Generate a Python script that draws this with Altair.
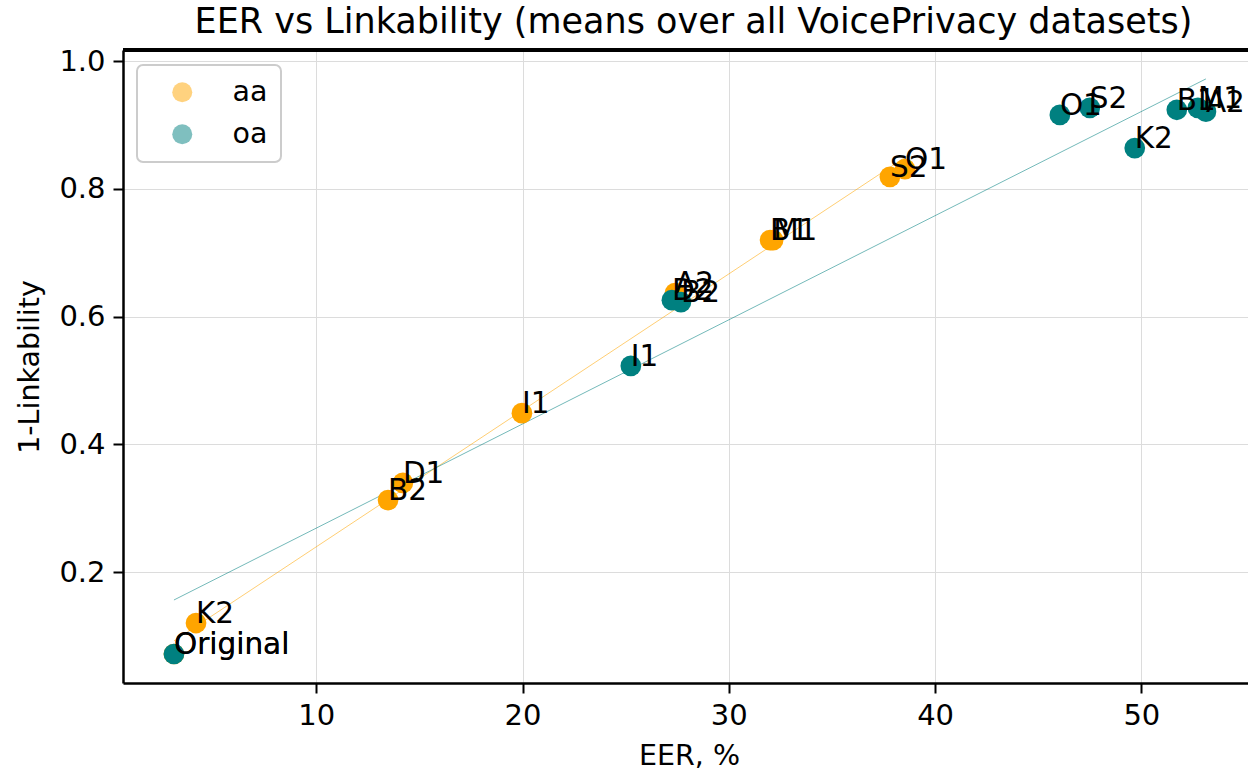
import altair as alt
import pandas as pd

# --- data -------------------------------------------------------------------
aa_labels = ["Original", "K2", "B2", "D1", "I1", "A2", "B1", "M1", "S2", "O1"]
aa_eer = [3.10, 4.17, 13.48, 14.20, 19.97, 27.39, 32.00, 32.15, 37.81, 38.54]
aa_link = [0.072, 0.1205, 0.313, 0.340, 0.449, 0.637, 0.720, 0.720, 0.819, 0.831]

oa_labels = ["Original", "I1", "D2", "B2", "O1", "S2", "K2", "B1", "M1", "A2"]
oa_eer = [3.10, 25.25, 27.24, 27.68, 46.05, 47.50, 49.68, 51.72, 52.74, 53.13]
oa_link = [0.072, 0.523, 0.626, 0.623, 0.916, 0.927, 0.864, 0.924, 0.927, 0.921]

series_names = ["aa", "oa"]
series_colors = ["#FFA500", "#008080"]
x_ticks = [10, 20, 30, 40, 50]
y_ticks = [0.2, 0.4, 0.6, 0.8, 1.0]

rows = []
for lab, x, y in zip(aa_labels, aa_eer, aa_link):
    rows.append({"label": lab, "eer": x, "link": y, "attack": "aa"})
for lab, x, y in zip(oa_labels, oa_eer, oa_link):
    rows.append({"label": lab, "eer": x, "link": y, "attack": "oa"})
df = pd.DataFrame(rows)

W, H = 1125, 633
FONT = "DejaVu Sans"

xscale = alt.Scale(domain=[0.63, 55.17], nice=False, zero=False)
yscale = alt.Scale(domain=[0.0266, 1.0176], nice=False, zero=False)

x_enc = alt.X(
    "eer:Q", scale=xscale,
    axis=alt.Axis(values=x_ticks, format="d", title="EER, %",
                  titleX=566, titleY=81, titleBaseline="alphabetic"),
)
y_enc = alt.Y(
    "link:Q", scale=yscale,
    axis=alt.Axis(values=y_ticks, format=".1f", title="1-Linkability",
                  titleX=-85, titleBaseline="alphabetic"),
)

base = alt.Chart(df)

lines = []
for name, col in zip(series_names, series_colors):
    lines.append(
        base.transform_filter(alt.datum.attack == name)
        .transform_regression("eer", "link")
        .mark_line(strokeWidth=1, opacity=0.55, clip=True)
        .encode(x=x_enc, y=y_enc, color=alt.value(col))
    )

points = base.mark_circle(size=430, opacity=1).encode(
    x=x_enc, y=y_enc,
    color=alt.Color(
        "attack:N",
        scale=alt.Scale(domain=series_names, range=series_colors),
        legend=alt.Legend(
            title=None, orient="none", legendX=14, legendY=15,
            padding=13, symbolOffset=18, labelOffset=36,
            rowPadding=13, symbolSize=400, symbolOpacity=0.5,
            symbolType="circle", labelFontSize=28.5, labelFont=FONT,
            labelColor="black",
            strokeColor="#cccccc", cornerRadius=6,
            fillColor="white",
        ),
    ),
    order=alt.Order("attack:N"),
)

labels = base.mark_text(
    align="left", baseline="alphabetic", fontSize=29.5, font=FONT,
    color="black",
).encode(x=x_enc, y=y_enc, text="label:N")

top_spine = alt.Chart(df).mark_rule(color="black", strokeWidth=2.5).encode(
    x=alt.value(0), x2=alt.value(W), y=alt.value(0)
)

chart = (
    alt.layer(*lines, points, labels, top_spine)
    .properties(
        width=W, height=H,
        title=alt.TitleParams(
            "EER vs Linkability (means over all VoicePrivacy datasets)",
            fontSize=35, font=FONT, fontWeight="normal", color="black",
            anchor="middle", dx=8, offset=7,
        ),
        autosize=alt.AutoSizeParams(type="none"),
        padding={"left": 123, "top": 50, "right": 0, "bottom": 86},
    )
    .configure(font=FONT, background="white")
    .configure_view(stroke=None)
    .configure_legend(strokeWidth=2)
    .configure_axis(
        labelFont=FONT, titleFont=FONT, labelFontSize=29, titleFontSize=28.5,
        labelColor="black", titleColor="black", titleFontWeight="normal",
        domainColor="black", domainWidth=2.5, tickColor="black",
        tickWidth=2, tickSize=10, labelPadding=8,
        grid=True, gridColor="#dcdcdc", gridWidth=1,
    )
)

chart.save("out.html", embed_options={"renderer": "svg", "actions": False})
